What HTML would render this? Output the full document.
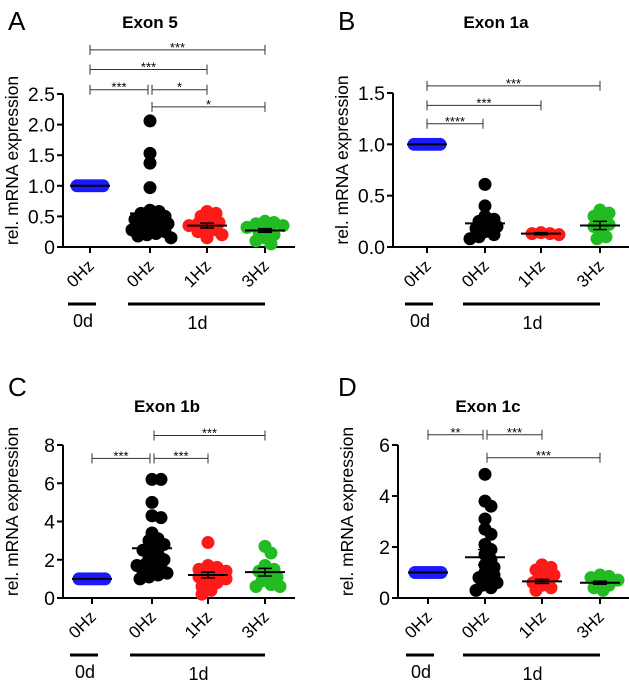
<!DOCTYPE html>
<html><head><meta charset="utf-8"><style>
body{margin:0;background:#fff}
svg{display:block;font-family:"Liberation Sans",sans-serif}
</style></head><body>
<svg id="fig" width="629" height="688" viewBox="0 0 629 688"></svg>
<script>
// ---- data ----
const groupLabels = ["0Hz","0Hz","1Hz","3Hz"];
const colors = ["#1a1aff","#000000","#ff1a1a","#22bb22"];
const titlesArr = ["Exon 5","Exon 1a","Exon 1b","Exon 1c"];
const lettersArr = ["A","B","C","D"];
const ticksA = [0,0.5,1.0,1.5,2.0,2.5];
const tickLabelsA = ["0","0.5","1.0","1.5","2.0","2.5"];
const ticksB = [0,0.5,1.0,1.5];
const tickLabelsB = ["0.0","0.5","1.0","1.5"];
const ticksC = [0,2,4,6,8];
const tickLabelsC = ["0","2","4","6","8"];
const ticksD = [0,2,4,6];
const tickLabelsD = ["0","2","4","6"];
const valsA = [
 [1,1,1,1,1,1,1,1,1,1],
 [2.06,1.53,1.37,0.97,0.6,0.58,0.55,0.5,0.48,0.45,0.42,0.4,0.38,0.35,0.32,0.3,0.28,0.25,0.22,0.2,0.18,0.15],
 [0.58,0.55,0.5,0.45,0.4,0.38,0.35,0.3,0.28,0.25,0.2,0.15],
 [0.42,0.4,0.38,0.35,0.32,0.3,0.25,0.2,0.15,0.1,0.05]];
const meansA = [1,0.55,0.35,0.27];
const semA = [0,0.08,0.04,0.03];
const valsB = [
 [1,1,1,1,1,1,1,1,1],
 [0.61,0.4,0.3,0.27,0.25,0.22,0.2,0.18,0.15,0.12,0.1,0.08],
 [0.14,0.13,0.13,0.12],
 [0.36,0.33,0.3,0.25,0.22,0.2,0.15,0.1,0.08]];
const meansB = [1,0.23,0.13,0.21];
const semB = [0,0.04,0.01,0.04];
const valsC = [
 [1,1,1,1,1,1,1,1,1],
 [6.2,6.2,5.0,4.3,4.2,3.4,3.1,3.0,2.8,2.6,2.5,2.3,2.2,2.0,1.9,1.8,1.7,1.6,1.5,1.4,1.3,1.2,1.1,1.0],
 [2.9,1.7,1.6,1.5,1.4,1.3,1.2,1.1,1.0,0.9,0.8,0.6,0.4,0.2],
 [2.7,2.35,1.7,1.5,1.4,1.2,1.1,0.9,0.7,0.6,0.6]];
const meansC = [1,2.6,1.2,1.35];
const semC = [0,0.3,0.15,0.2];
const valsD = [
 [1,1,1,1,1,1,1,1,1],
 [4.85,3.8,3.6,3.1,2.7,2.5,2.1,1.9,1.7,1.5,1.3,1.2,1.0,0.9,0.8,0.7,0.6,0.5,0.4,0.3],
 [1.3,1.2,1.1,1.0,0.9,0.8,0.7,0.6,0.5,0.4,0.3],
 [0.9,0.85,0.8,0.7,0.6,0.5,0.4,0.3]];
const meansD = [1,1.6,0.65,0.6];
const semD = [0,0.3,0.08,0.06];
// brackets: [from, to, label, value-level]
const bracketsA = [[0,1,"***",2.57],[1,2,"*",2.57],[0,2,"***",2.9],[0,3,"***",3.22],[1,3,"*",2.29]];
const bracketsB = [[0,1,"****",1.2],[0,2,"***",1.38],[0,3,"***",1.57]];
const bracketsC = [[0,1,"***",7.3],[1,2,"***",7.3],[1,3,"***",8.5]];
const bracketsD = [[0,1,"**",6.4],[1,2,"***",6.4],[1,3,"***",5.5]];

// ---- layout ----
const panels = [
 {ox:63, tx:[90,150,207,265], y0:247, y1:94, vmax:2.5, ticks:ticksA, tl:tickLabelsA, vals:valsA, means:meansA, sem:semA, br:bracketsA, letterX:8, letterY:30, titleX:150, titleY:28},
 {ox:393, tx:[427,485,541,600], y0:247, y1:93, vmax:1.5, ticks:ticksB, tl:tickLabelsB, vals:valsB, means:meansB, sem:semB, br:bracketsB, letterX:338, letterY:30, titleX:496, titleY:28},
 {ox:63, tx:[92,152,208,265], y0:598, y1:445, vmax:8, ticks:ticksC, tl:tickLabelsC, vals:valsC, means:meansC, sem:semC, br:bracketsC, letterX:8, letterY:396, titleX:167, titleY:412},
 {ox:398, tx:[428,485,542,600], y0:598, y1:445, vmax:6, ticks:ticksD, tl:tickLabelsD, vals:valsD, means:meansD, sem:semD, br:bracketsD, letterX:338, letterY:396, titleX:488, titleY:412}
];
const NS="http://www.w3.org/2000/svg";
const svg=document.getElementById("fig");
function mk(tag,attrs,parent,text){const e=document.createElementNS(NS,tag);for(const k in attrs)e.setAttribute(k,attrs[k]);if(text!==undefined)e.textContent=text;(parent||svg).appendChild(e);return e;}

panels.forEach((p,pi)=>{
 const g=mk("g",{});
 
 
 const ys=v=>p.y0-(v/p.vmax)*(p.y0-p.y1);
 const r=6.5;
 const L=mk("text",{x:p.letterX,y:p.letterY,"font-size":26},g,lettersArr[pi]);
 
 
 const T=mk("text",{x:p.titleX,y:p.titleY,"font-size":17,"font-weight":"bold","text-anchor":"middle"},g,titlesArr[pi]);
 
 
 const yl=mk("text",{x:0,y:0,"font-size":17.5,"text-anchor":"middle",transform:`translate(${p.ox-45},${(p.y0+p.y1)/2-10}) rotate(-90)`},g,"rel. mRNA expression");
 
 
 const ya=mk("line",{x1:p.ox,y1:p.y1,x2:p.ox,y2:p.y0,stroke:"#000","stroke-width":2},g);
 
 
 const xa=mk("line",{x1:p.ox,y1:p.y0,x2:p.tx[3]+30,y2:p.y0,stroke:"#000","stroke-width":2},g);
 
 
 p.ticks.forEach((t,i)=>{
  mk("line",{x1:p.ox-6,y1:ys(t),x2:p.ox,y2:ys(t),stroke:"#000","stroke-width":2},g);
  const tt=mk("text",{x:p.ox-8,y:ys(t)+7,"font-size":19.5,"text-anchor":"end"},g,p.tl[i]);
  
  
 });
 p.tx.forEach((x,i)=>{
  mk("line",{x1:x,y1:p.y0,x2:x,y2:p.y0+6,stroke:"#000","stroke-width":2},g);
  const xt=mk("text",{x:0,y:0,"font-size":17,"text-anchor":"end",transform:`translate(${x+5},${p.y0+20}) rotate(-45)`},g,groupLabels[i]);
  
  
 });
 const gy=p.y0+57;
 mk("line",{x1:p.tx[0]-22,y1:gy,x2:p.tx[0]+6,y2:gy,stroke:"#000","stroke-width":3},g);
 mk("line",{x1:p.tx[1]-22,y1:gy,x2:p.tx[3],y2:gy,stroke:"#000","stroke-width":3},g);
 const d0=mk("text",{x:p.tx[0]-7,y:gy+23,"font-size":18,"text-anchor":"middle"},g,"0d");
 
 
 const d1=mk("text",{x:(p.tx[1]+p.tx[3])/2-10,y:gy+25,"font-size":18,"text-anchor":"middle"},g,"1d");
 
 
 p.vals.forEach((vs,gi)=>{
  const cx=p.tx[gi];
  const placed=[];
  if(gi===0){
   vs.forEach((v,k)=>{
    const px=cx-13+k*(26/(vs.length-1));
    const c=mk("circle",{cx:px,cy:ys(v),r:r,fill:colors[0]},g);
    
    
   });
  } else {
   vs.forEach(v=>{
    const y=ys(v);let best=null;
    for(let s=0;s<14;s++){
     const off=(s%2?1:-1)*Math.ceil(s/2)*3;
     const x=cx+off;
     if(placed.every(q=>Math.hypot(q[0]-x,q[1]-y)>=r*1.15)){best=x;break;}
    }
    if(best===null)best=cx+((placed.length%2)?8:-8);
    placed.push([best,y]);
    const c=mk("circle",{cx:best,cy:y,r:r,fill:colors[gi]},g);
    
    
   });
  }
  const m=p.means[gi];
  const ml=mk("line",{x1:cx-20,y1:ys(m),x2:cx+20,y2:ys(m),stroke:"#000","stroke-width":2},g);
  
  
  if(p.sem[gi]>0){
   const s=p.sem[gi];
   mk("line",{x1:cx,y1:ys(m+s),x2:cx,y2:ys(m-s),stroke:"#000","stroke-width":1.5},g);
   mk("line",{x1:cx-7,y1:ys(m+s),x2:cx+7,y2:ys(m+s),stroke:"#000","stroke-width":1.5},g);
   mk("line",{x1:cx-7,y1:ys(m-s),x2:cx+7,y2:ys(m-s),stroke:"#000","stroke-width":1.5},g);
  }
 });
 p.br.forEach(b=>{
  const x1=p.tx[b[0]]+(b[0]===1?2:0), x2=p.tx[b[1]]-(b[1]===1?2:0), y=ys(b[3]);
  const bg=mk("g",{},g);
  
  
  mk("line",{x1:x1,y1:y,x2:x2,y2:y,stroke:"#333","stroke-width":1},bg);
  mk("line",{x1:x1,y1:y-5,x2:x1,y2:y+5,stroke:"#333","stroke-width":1},bg);
  mk("line",{x1:x2,y1:y-5,x2:x2,y2:y+5,stroke:"#333","stroke-width":1},bg);
  mk("text",{x:(x1+x2)/2,y:y+2,"font-size":13,"text-anchor":"middle"},bg,b[2]);
 });
});
</script>
</body></html>
